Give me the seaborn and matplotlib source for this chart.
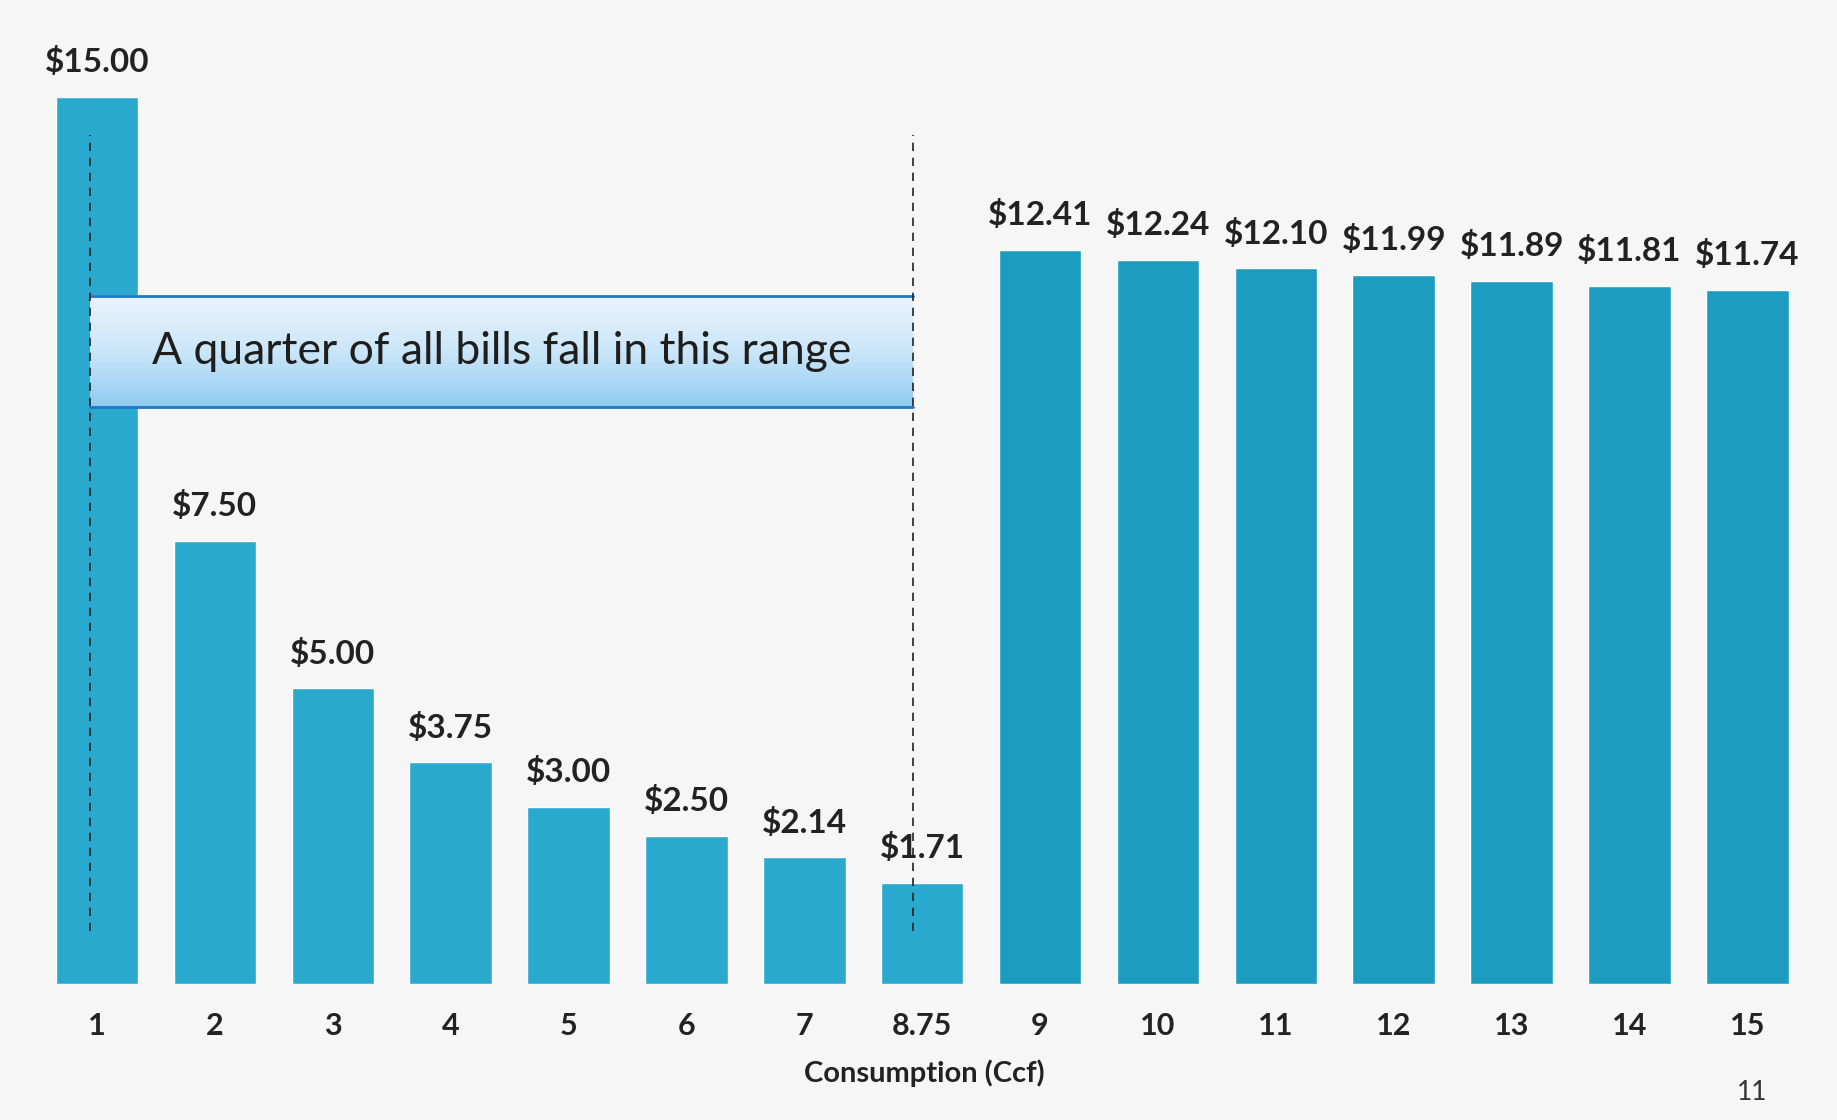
import numpy as np
import pandas as pd
import matplotlib
matplotlib.use("Agg")
import matplotlib.pyplot as plt
import seaborn as sns
from matplotlib.colors import LinearSegmentedColormap

consumption = ["1", "2", "3", "4", "5", "6", "7", "8.75", "9", "10", "11", "12", "13", "14", "15"]
cost_per_ccf = [15.00, 7.50, 5.00, 3.75, 3.00, 2.50, 2.14, 1.71,
                12.41, 12.24, 12.10, 11.99, 11.89, 11.81, 11.74]
value_labels = ["$15.00", "$7.50", "$5.00", "$3.75", "$3.00", "$2.50", "$2.14", "$1.71",
                "$12.41", "$12.24", "$12.10", "$11.99", "$11.89", "$11.81", "$11.74"]
x_label = "Consumption (Ccf)"
box_text = "A quarter of all bills fall in this range"
page_number = "11"

sns.set_theme(style="white")
plt.rcParams['font.family'] = ['Lato', 'DejaVu Sans']

df = pd.DataFrame({"consumption": consumption, "cost": cost_per_ccf})
light_col = "#2AA9CF"
dark_col = "#1C9CC0"
palette = [light_col] * 8 + [dark_col] * 7

fig = plt.figure(figsize=(18.37, 11.2), dpi=100)
fig.patch.set_facecolor("#F6F6F7")
ax = fig.add_axes([0, 0.1214, 1, 0.8786])
ax.set_facecolor("none")

sns.barplot(data=df, x="consumption", y="cost", hue="consumption", palette=palette,
            order=consumption, hue_order=consumption, legend=False, width=0.7,
            saturation=1, ax=ax)

ax.set_xlim(-0.823, 14.76)
ax.set_ylim(0, 16.64)
for s in ax.spines.values():
    s.set_visible(False)
ax.set_yticks([])
ax.set_ylabel("")
ax.tick_params(axis="x", length=0, pad=20, labelsize=22, colors="#222222")
for t in ax.get_xticklabels():
    t.set_fontweight("bold")

ax.set_xlabel(x_label, fontsize=21, fontweight="bold", color="#222222")
ax.xaxis.label.set_va("center")
ax.xaxis.set_label_coords(0.503, -0.0904)

for i, (v, lab) in enumerate(zip(cost_per_ccf, value_labels)):
    ax.annotate(lab, (i, v), xytext=(0, 25), textcoords="offset points",
                ha="center", va="center", fontsize=24, fontweight="bold", color="#222222")

# highlighted range box with gradient
x0, x1 = -0.06, 6.92
y0, y1 = 9.76, 11.64
grad = np.linspace(0, 1, 256).reshape(-1, 1)
cmap = LinearSegmentedColormap.from_list("box", ["#EAF5FD", "#CBE6F9", "#8FCBF0"])
ax.imshow(grad, extent=[x0, x1, y1, y0], cmap=cmap, aspect="auto", zorder=3,
          origin="lower")
ax.plot([x0, x1], [y1, y1], color="#1F74C9", lw=2, zorder=4)
ax.plot([x0, x1], [y0, y0], color="#1F74C9", lw=2, zorder=4)
ax.text((x0 + x1) / 2, (y0 + y1) / 2, box_text, ha="center", va="center",
        fontsize=32, color="#1E1E1E", zorder=5)
ax.set_xlim(-0.823, 14.76)
ax.set_ylim(0, 16.64)

# dashed range lines
for xd in (x0, x1):
    ax.plot([xd, xd], [0.89, 14.36], color="#222222", lw=1.2, ls=(0, (5, 4)), zorder=6)

fig.text(1752 / 1837, 1 - 1092 / 1120, page_number, ha="center", va="center",
         fontsize=19, color="#333333")

fig.savefig("out.png", dpi=100, facecolor=fig.get_facecolor())
